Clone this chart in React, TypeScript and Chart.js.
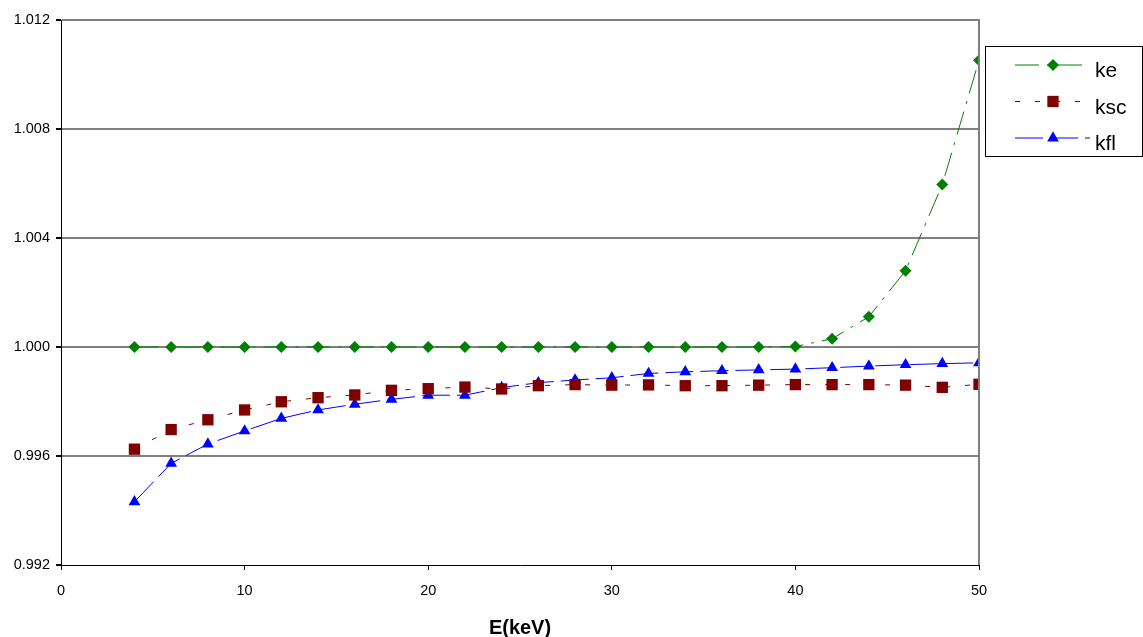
import React, { useEffect, useRef } from "react";
import { Chart, registerables } from "chart.js";

Chart.register(...registerables);

const energies = [4, 6, 8, 10, 12, 14, 16, 18, 20, 22, 24, 26, 28, 30, 32, 34, 36, 38, 40, 42, 44, 46, 48, 50];

const keValues = [
  1.0, 1.0, 1.0, 1.0, 1.0, 1.0, 1.0, 1.0, 1.0, 1.0, 1.0, 1.0, 1.0, 1.0, 1.0, 1.0, 1.0, 1.0,
  1.00002, 1.0003, 1.00111, 1.0028, 1.00596, 1.01052,
];

const kscValues = [
  0.99625, 0.99697, 0.99733, 0.99769, 0.99799, 0.99814, 0.99824, 0.99841, 0.99847, 0.99853, 0.99846,
  0.99858, 0.99862, 0.9986, 0.99861, 0.99858, 0.99858, 0.9986, 0.99862, 0.99862, 0.99862, 0.9986,
  0.99852, 0.99863,
];

const kflValues = [
  0.99432, 0.99573, 0.99644, 0.99692, 0.99738, 0.99769, 0.9979, 0.99808, 0.99823, 0.99823, 0.99851,
  0.99869, 0.99879, 0.99887, 0.99903, 0.99909, 0.99913, 0.99916, 0.99919, 0.99924, 0.9993, 0.99935,
  0.99939, 0.99942,
];

const seriesNames = ["ke", "ksc", "kfl"];
const seriesColors = ["#008000", "#800000", "#0000FF"];
const seriesDashes = [[24, 8, 3, 8], [5, 15], [28, 7]];
const seriesPoints = ["rectRot", "rect", "triangle"];
const seriesRadius = [6, 8, 6.8];

const xAxisTitle = "E(keV)";
const yMin = 0.992;
const yMax = 1.012;
const yStep = 0.004;
const xMin = 0;
const xMax = 50;
const xStep = 10;

const FONT = "'Liberation Sans', Arial, sans-serif";

function drawMarker(ctx: CanvasRenderingContext2D, style: string, x: number, y: number, r: number, color: string) {
  ctx.save();
  ctx.fillStyle = color;
  ctx.beginPath();
  if (style === "rectRot") {
    ctx.moveTo(x, y - r);
    ctx.lineTo(x + r, y);
    ctx.lineTo(x, y + r);
    ctx.lineTo(x - r, y);
    ctx.closePath();
  } else if (style === "rect") {
    const s = r * Math.SQRT1_2;
    ctx.rect(x - s, y - s, 2 * s, 2 * s);
  } else {
    const h = r * 1.5;
    const w = r * Math.sqrt(3) / 2;
    ctx.moveTo(x, y - r);
    ctx.lineTo(x + w, y - r + h);
    ctx.lineTo(x - w, y - r + h);
    ctx.closePath();
  }
  ctx.fill();
  ctx.restore();
}

const frameAndLegend = {
  id: "frameAndLegend",
  afterDraw(chart: any) {
    const { ctx, chartArea } = chart;
    ctx.save();
    // right border of plot
    ctx.strokeStyle = "#808080";
    ctx.lineWidth = 2;
    ctx.beginPath();
    ctx.moveTo(chartArea.right, chartArea.top - 1);
    ctx.lineTo(chartArea.right, chartArea.bottom);
    ctx.stroke();

    // legend box
    const bx = 985.5;
    const by = 46.5;
    const bw = 157;
    const bh = 110;
    ctx.fillStyle = "#ffffff";
    ctx.fillRect(bx, by, bw, bh);
    ctx.strokeStyle = "#000000";
    ctx.lineWidth = 1;
    ctx.strokeRect(bx, by, bw, bh);

    chart.data.datasets.forEach((ds: any, i: number) => {
      const y = 65 + i * 36.5;
      ctx.save();
      ctx.strokeStyle = ds.borderColor;
      ctx.lineWidth = 1;
      ctx.setLineDash(ds.borderDash || []);
      ctx.beginPath();
      ctx.moveTo(1015, y);
      ctx.lineTo(1090, y);
      ctx.stroke();
      ctx.restore();
      drawMarker(ctx, ds.pointStyle, 1053, y, ds.pointRadius, ds.backgroundColor);
      ctx.fillStyle = "#000000";
      ctx.font = `21px ${FONT}`;
      ctx.textAlign = "left";
      ctx.textBaseline = "alphabetic";
      ctx.fillText(ds.label, 1095, y + 12);
    });
    ctx.restore();
  },
};

export default function App() {
  const canvasRef = useRef<HTMLCanvasElement | null>(null);

  useEffect(() => {
    const canvas = canvasRef.current;
    if (!canvas) return;
    const makeData = (vals: number[]) => energies.map((x, i) => ({ x, y: vals[i] }));
    const all = [keValues, kscValues, kflValues];
    const chart = new Chart(canvas, {
      type: "line",
      data: {
        datasets: all.map((vals, i) => ({
          label: seriesNames[i],
          data: makeData(vals),
          borderColor: seriesColors[i],
          backgroundColor: seriesColors[i],
          borderWidth: 1,
          borderDash: seriesDashes[i],
          pointStyle: seriesPoints[i] as any,
          pointRadius: seriesRadius[i],
          pointBorderWidth: 0,
          pointBackgroundColor: seriesColors[i],
          pointBorderColor: seriesColors[i],
          tension: 0,
          fill: false,
        })),
      },
      options: {
        animation: false,
        responsive: false,
        maintainAspectRatio: false,
        layout: { padding: { left: 0, top: 20, right: 164, bottom: 0 } },
        plugins: {
          legend: { display: false },
          tooltip: { enabled: false },
          title: { display: false },
        },
        scales: {
          x: {
            type: "linear",
            min: xMin,
            max: xMax,
            ticks: {
              stepSize: xStep,
              color: "#000000",
              font: { family: FONT, size: 14.5 },
              padding: 12,
              maxRotation: 0,
            },
            grid: {
              display: true,
              drawOnChartArea: false,
              drawTicks: true,
              tickLength: 5,
              tickColor: "#000000",
              color: "#000000",
            },
            border: { display: true, color: "#000000", width: 1 },
            title: {
              display: true,
              text: xAxisTitle,
              color: "#000000",
              font: { family: FONT, size: 20, weight: "bold", lineHeight: 1 },
              padding: { top: 0, bottom: -1 },
            },
            afterFit: (scale: any) => {
              scale.height = 72;
            },
          },
          y: {
            type: "linear",
            min: yMin,
            max: yMax,
            ticks: {
              stepSize: yStep,
              color: "#000000",
              font: { family: FONT, size: 14.5 },
              padding: 6,
              callback: (v: any) => Number(v).toFixed(3),
            },
            grid: {
              display: true,
              drawTicks: true,
              tickLength: 5,
              tickColor: "#000000",
              lineWidth: 2,
              color: (c: any) => (c.index === 0 ? "rgba(0,0,0,0)" : "#808080"),
            },
            border: { display: true, color: "#000000", width: 1 },
            afterFit: (scale: any) => {
              scale.width = 61;
            },
          },
        },
      },
      plugins: [frameAndLegend],
    });
    return () => chart.destroy();
  }, []);

  return (
    <div style={{ position: "fixed", left: 0, top: 0, width: 1143, height: 637, background: "#ffffff" }}>
      <canvas ref={canvasRef} width={1143} height={637} style={{ display: "block" }} />
    </div>
  );
}
